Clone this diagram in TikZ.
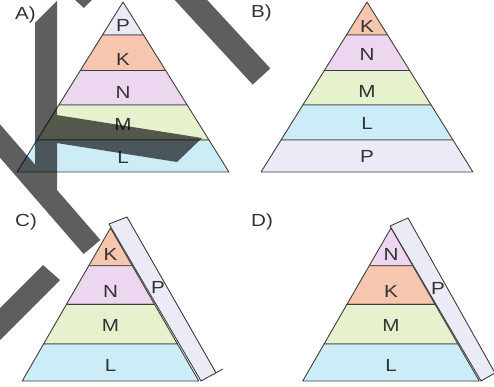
\documentclass[tikz,border=0pt]{standalone}
\usepackage{fontspec}
\setmainfont{Liberation Sans}
\usepackage{graphicx}
\usepackage{xcolor}
\definecolor{pyrP}{HTML}{EBEBF6}
\definecolor{pyrK}{HTML}{F7C6AE}
\definecolor{pyrN}{HTML}{EDD6EF}
\definecolor{pyrM}{HTML}{E6F1CE}
\definecolor{pyrL}{HTML}{CCECF8}
\definecolor{pyrTrait}{HTML}{3E3E3E}
\definecolor{pyrTexte}{HTML}{333333}
%% Les lettres de l'original sont un peu elargies.
\newcommand{\Etire}[1]{\scalebox{1.18}[1]{#1}}
\tikzset{
  %% ── Tranches ─────────────────────────────────────────────────────────
  %% Chaque etage est un trapeze plein ; le sommet est un trapeze plat.
  tranche/.style = {draw=pyrTrait, line width=0.9pt, line join=round},
  %%
  %% ── Textes ───────────────────────────────────────────────────────────
  lettre/.style  = {font=\fontsize{17.5}{17.5}\selectfont, text=pyrTexte,
                    inner sep=0pt},
  repere/.style  = {lettre, anchor=base west},
  %%
  %% ── Bandes sombres posees sur la figure ─────────────────────────────
  voile/.style   = {fill=black, fill opacity=0.63},
}

\begin{document}
\begin{tikzpicture}[x=1pt, y=-1pt]
\useasboundingbox (0,0) rectangle (494,387);

%% A) : sommet en (123,2), base a 172, pente 0,623.
\foreach \ya/\yb/\coul/\nom/\yt in {2/35/pyrP/P/25, 35/70.5/pyrK/K/59.5,
                                   70.5/105/pyrN/N/92, 105/140/pyrM/M/124,
                                   140/172/pyrL/L/157} {
  \filldraw[tranche, fill=\coul]
       ({123-0.623*(\ya-2)}, \ya) -- ({123+0.623*(\ya-2)}, \ya)
    -- ({123+0.623*(\yb-2)}, \yb) -- ({123-0.623*(\yb-2)}, \yb) -- cycle;
  \node[lettre] (A\nom) at (123, \yt) {\Etire{\nom}};
}
\node[repere] (repA) at (15, 20) {\Etire{A)}};

%% B) : meme gabarit, decale en x.
\foreach \ya/\yb/\coul/\nom/\yt in {2/35/pyrK/K/26, 35/70.5/pyrN/N/54.5,
                                   70.5/105/pyrM/M/91.5, 105/140/pyrL/L/123.5,
                                   140/172/pyrP/P/156.5} {
  \filldraw[tranche, fill=\coul]
       ({367-0.623*(\ya-2)}, \ya) -- ({367+0.623*(\ya-2)}, \ya)
    -- ({367+0.623*(\yb-2)}, \yb) -- ({367-0.623*(\yb-2)}, \yb) -- cycle;
  \node[lettre] (B\nom) at (367, \yt) {\Etire{\nom}};
}
\node[repere] (repB) at (251, 18) {\Etire{B)}};

%% C) et D) : la tranche P est une plaque le long du flanc droit.
\filldraw[tranche, fill=pyrP] (109,224) -- (127,217) -- (216,372.8) -- (201,381) -- cycle;
\draw[tranche] (216,372.8) -- (223,369);
\filldraw[tranche, fill=pyrP] (390,226) -- (408,218) -- (495,373) -- (481,381) -- cycle;

\foreach \ya/\yb/\coul/\nom/\yt in {228/265.7/pyrK/K/254, 265.7/304.3/pyrN/N/291.5,
                                   304.3/344/pyrM/M/325, 344/381/pyrL/L/365} {
  \filldraw[tranche, fill=\coul]
       ({110.5-0.577*(\ya-228)}, \ya) -- ({110.5+0.577*(\ya-228)}, \ya)
    -- ({110.5+0.577*(\yb-228)}, \yb) -- ({110.5-0.577*(\yb-228)}, \yb) -- cycle;
  \node[lettre] (C\nom) at (110.5, \yt) {\Etire{\nom}};
}
\node[lettre] (CP) at (158, 287) {\Etire{P}};
\node[repere] (repC) at (15, 226.5) {\Etire{C)}};

\foreach \ya/\yb/\coul/\nom/\yt in {228/265.7/pyrN/N/254.5, 265.7/304.3/pyrK/K/291.5,
                                   304.3/344/pyrM/M/325, 344/381/pyrL/L/365} {
  \filldraw[tranche, fill=\coul]
       ({391-0.577*(\ya-228)}, \ya) -- ({391+0.577*(\ya-228)}, \ya)
    -- ({391+0.577*(\yb-228)}, \yb) -- ({391-0.577*(\yb-228)}, \yb) -- cycle;
  \node[lettre] (D\nom) at (391, \yt) {\Etire{\nom}};
}
\node[lettre] (DP) at (438, 288) {\Etire{P}};
\node[repere] (repD) at (251, 226.5) {\Etire{D)}};

%% Les bandes sombres, en un seul chemin pour ne pas foncer les recouvrements.
\begin{scope}
  \clip (0,0) rectangle (494,387);
  \fill[voile]
       (35,23) -- (57,1) -- (57,195) -- (35,195) -- cycle
       (168.6,-6.6) -- (186.2,-22.8) -- (270.3,68.4) -- (252.7,84.6) -- cycle
       (-21.4,133) -- (-4.6,119) -- (100.4,240) -- (83.6,254) -- cycle
       (-20,328) -- (43,265) -- (60,280) -- (-20,360) -- cycle
       (50,114) -- (202,138) -- (177,162) -- (50,142) -- cycle
       (75,0) -- (92,0) -- (84,8) -- cycle;
\end{scope}

\end{tikzpicture}
\end{document}
